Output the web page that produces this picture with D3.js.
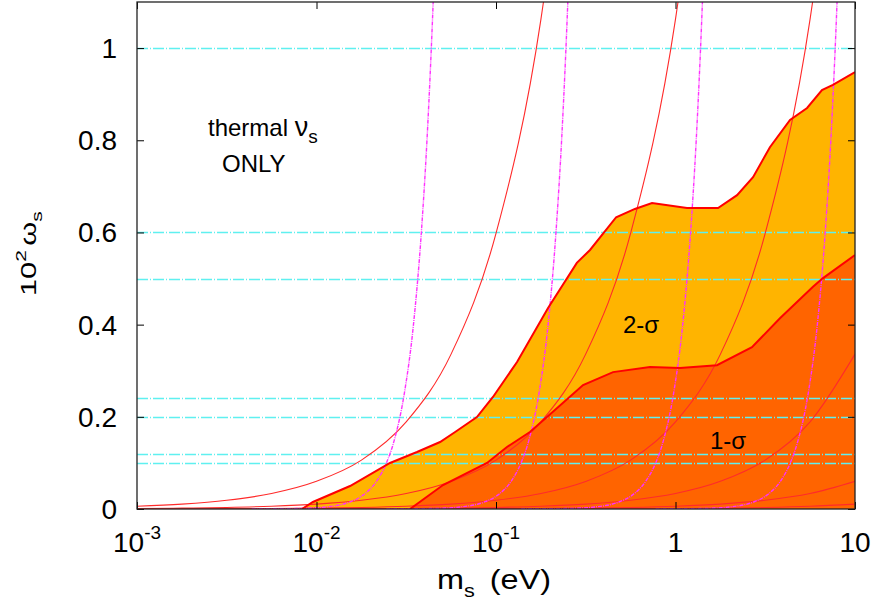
<!DOCTYPE html>
<html><head><meta charset="utf-8">
<script src="https://cdn.jsdelivr.net/npm/d3@7"></script>
<style>
body{margin:0;background:#fff;}
text{font-family:"Liberation Sans",Arial,Helvetica,sans-serif;fill:#000;}
</style></head>
<body><svg id="c" width="877" height="604"></svg>
<script>
// ---- data ----
const xTickValues = [0.001, 0.01, 0.1, 1, 10];
const xTickBase   = ["10", "10", "10", "1", "10"];
const xTickExp    = ["-3", "-2", "-1", "", ""];
const yTickValues = [0, 0.2, 0.4, 0.6, 0.8, 1];
const yTickLabels = ["0", "0.2", "0.4", "0.6", "0.8", "1"];

// horizontal dash-dot reference levels
const cyanLevels = [1.0, 0.6, 0.5, 0.24, 0.2, 0.12, 0.1];

// red solid curves (omega vs m)
const redM  = [0.001, 0.00178, 0.00316, 0.00562, 0.01, 0.0178, 0.0316, 0.0562, 0.1, 0.178, 0.316, 0.562, 1, 1.78, 3.16, 5.62, 10];
const redW1 = [0.006, 0.0106, 0.0189, 0.0336, 0.060, 0.106, 0.189, 0.336, 0.598, 1.063, 1.89];
const redW2 = [0.00106, 0.00189, 0.00336, 0.00598, 0.0106, 0.0189, 0.0336, 0.0598, 0.106, 0.189, 0.336, 0.598, 1.063, 1.89];
const redW3 = [0.00019, 0.00034, 0.0006, 0.00106, 0.0019, 0.0034, 0.006, 0.0106, 0.0189, 0.0336, 0.0598, 0.106, 0.189, 0.336, 0.598, 1.063, 1.89];
const redW4 = [0.00003, 0.00006, 0.0001, 0.00019, 0.00034, 0.0006, 0.00106, 0.0019, 0.0034, 0.006, 0.0106, 0.0189, 0.0336, 0.06, 0.106, 0.189, 0.336];
const redW5 = [0.000006, 0.00001, 0.00002, 0.00003, 0.00006, 0.0001, 0.00019, 0.00034, 0.0006, 0.00106, 0.0019, 0.0034, 0.006, 0.0106, 0.0189, 0.0336, 0.06];
const redW6 = [0.000001, 0.000002, 0.000003, 0.000006, 0.00001, 0.00002, 0.00003, 0.00006, 0.0001, 0.00019, 0.00034, 0.0006, 0.00106, 0.0019, 0.0034, 0.006, 0.0106];

// magenta dotted curves
const magW  = [0.0001, 0.001, 0.005, 0.015, 0.03, 0.06, 0.1, 0.15, 0.25, 0.4, 0.6, 0.8, 1.1, 1.3];
const magM1 = [0.00436, 0.00776, 0.0116, 0.01527, 0.01815, 0.02159, 0.02453, 0.02715, 0.03083, 0.03469, 0.03838, 0.04125, 0.04467, 0.04658];
const magM2 = [0.0245, 0.0436, 0.0652, 0.0858, 0.1021, 0.1214, 0.1379, 0.1527, 0.1734, 0.1951, 0.2158, 0.2320, 0.2512, 0.2619];
const magM3 = [0.138, 0.2453, 0.3668, 0.4825, 0.5739, 0.6827, 0.7757, 0.8585, 0.9752, 1.0969, 1.2136, 1.3044, 1.4125, 1.473];
const magM4 = [0.775, 1.379, 2.062, 2.713, 3.227, 3.839, 4.362, 4.827, 5.483, 6.168, 6.824, 7.335, 7.943, 8.282];

// 2-sigma region upper boundary
const sig2M = [0.0083, 0.00955, 0.01538, 0.02567, 0.0363, 0.0488, 0.0592, 0.0783, 0.0962, 0.131, 0.195, 0.282, 0.334, 0.467, 0.594, 0.740, 1.159, 1.726, 2.203, 2.704, 3.357, 4.345, 5.408, 6.546, 7.534, 10];
const sig2W = [0, 0.0152, 0.0499, 0.0998, 0.1236, 0.1453, 0.167, 0.1996, 0.243, 0.319, 0.436, 0.534, 0.562, 0.633, 0.651, 0.664, 0.653, 0.653, 0.681, 0.720, 0.785, 0.844, 0.870, 0.909, 0.920, 0.948];
// 1-sigma region upper boundary
const sig1M = [0.0332, 0.0507, 0.0891, 0.1151, 0.1545, 0.1923, 0.3055, 0.4487, 0.7211, 1.059, 1.702, 2.667, 3.819, 5.834, 6.637, 10];
const sig1W = [0, 0.052, 0.0998, 0.1345, 0.167, 0.1996, 0.269, 0.297, 0.308, 0.306, 0.312, 0.351, 0.414, 0.482, 0.501, 0.551];

// ---- drawing ----
const L = 137, R = 855, T = 2, B = 509;
const svg = d3.select("#c");
const x = d3.scaleLog().domain([0.001, 10]).range([L, R]);
const y = d3.scaleLinear().domain([0, 1.1]).range([B, T]);

svg.append("defs").append("clipPath").attr("id", "clip")
  .append("rect").attr("x", L).attr("y", T).attr("width", R - L).attr("height", B - T);
const plot = svg.append("g").attr("clip-path", "url(#clip)");

const zip = (ms, ws) => ws.map((w, i) => [ms[i], w]);
const area = d3.area().x(d => x(d[0])).y0(y(0)).y1(d => y(d[1]));
const line = d3.line().x(d => x(d[0])).y(d => y(d[1]));
const smooth = d3.line().x(d => x(d[0])).y(d => y(d[1])).curve(d3.curveMonotoneX);

const s2 = zip(sig2M, sig2W), s1 = zip(sig1M, sig1W);
plot.append("path").attr("d", area(s2)).attr("fill", "#ffb400");
plot.append("path").attr("d", area(s1)).attr("fill", "#ff6400");

// cyan levels
cyanLevels.forEach(v => {
  plot.append("line").attr("x1", L).attr("x2", R).attr("y1", Math.round(y(v)) + 0.5).attr("y2", Math.round(y(v)) + 0.5)
    .attr("stroke", "#5ff0f0").attr("stroke-width", 1.3).attr("stroke-dasharray", "11,2,1,2");
});

// red curves
[redW1, redW2, redW3, redW4, redW5, redW6].forEach(ws => {
  plot.append("path").attr("d", smooth(zip(redM, ws))).attr("fill", "none")
    .attr("stroke", "#ff2a2a").attr("stroke-width", 1.1);
});

// magenta curves
[magM1, magM2, magM3, magM4].forEach(ms => {
  plot.append("path").attr("d", smooth(zip(ms, magW))).attr("fill", "none")
    .attr("stroke", "#ff30ff").attr("stroke-width", 1.4).attr("stroke-dasharray", "4,1,1,1");
});

// region boundaries
plot.append("path").attr("d", line(s2)).attr("fill", "none").attr("stroke", "#ff0000").attr("stroke-width", 2);
plot.append("path").attr("d", line(s1)).attr("fill", "none").attr("stroke", "#ff0000").attr("stroke-width", 2);

// axes (ticks inward)
const gB = svg.append("g").attr("transform", `translate(0,${B})`)
  .call(d3.axisBottom(x).tickValues(xTickValues).tickSize(-7).tickFormat(""));
const gT = svg.append("g").attr("transform", `translate(0,${T})`)
  .call(d3.axisTop(x).tickValues(xTickValues).tickSize(-7).tickFormat(""));
const gL = svg.append("g").attr("transform", `translate(${L},0)`)
  .call(d3.axisLeft(y).tickValues(yTickValues).tickSize(-7).tickFormat(""));
const gR = svg.append("g").attr("transform", `translate(${R},0)`)
  .call(d3.axisRight(y).tickValues(yTickValues).tickSize(-7).tickFormat(""));
[gB, gT, gL, gR].forEach(g => { g.select(".domain").remove(); g.selectAll("line").attr("stroke", "#000"); });

svg.append("rect").attr("x", L).attr("y", T).attr("width", R - L).attr("height", B - T)
  .attr("fill", "none").attr("stroke", "#222").attr("stroke-width", 1.3);

// tick labels
xTickValues.forEach((v, i) => {
  const t = svg.append("text").attr("x", x(v)).attr("y", 552).attr("text-anchor", "middle")
    .style("font-size", "28px");
  t.append("tspan").text(xTickBase[i]);
  if (xTickExp[i]) t.append("tspan").attr("dy", -13).style("font-size", "19px").text(xTickExp[i]);
});
yTickValues.forEach((v, i) => {
  svg.append("text").attr("x", 117).attr("y", y(v) + 10).attr("text-anchor", "end")
    .style("font-size", "28px").text(yTickLabels[i]);
});

// axis titles
const xl = svg.append("g").attr("transform", "translate(437,589) scale(1.2,1)")
  .append("text").style("font-size", "27px");
xl.append("tspan").text("m");
xl.append("tspan").attr("dy", 8).style("font-size", "18px").text("s");
xl.append("tspan").attr("x", 44).attr("dy", -8).text("(eV)");

const yl = svg.append("g").attr("transform", "translate(36,296) rotate(-90) scale(1.4,1)")
  .append("text").style("font-size", "22px");
yl.append("tspan").text("10");
yl.append("tspan").attr("dy", -10).style("font-size", "15px").text("2");
yl.append("tspan").attr("dx", 3).attr("dy", 10).text("ω");
yl.append("tspan").attr("dy", 6).style("font-size", "15px").text("s");

// annotations
const th = svg.append("text").attr("x", 208).attr("y", 136).style("font-size", "24px");
th.append("tspan").text("thermal ");
th.append("tspan").style("font-size", "27px").text("ν");
th.append("tspan").attr("dy", 7).style("font-size", "19px").text("s");
svg.append("text").attr("x", 222).attr("y", 172).style("font-size", "24px").text("ONLY");
svg.append("text").attr("x", 623).attr("y", 333).style("font-size", "24px").text("2-σ");
svg.append("text").attr("x", 710).attr("y", 449).style("font-size", "24px").text("1-σ");
</script></body></html>
